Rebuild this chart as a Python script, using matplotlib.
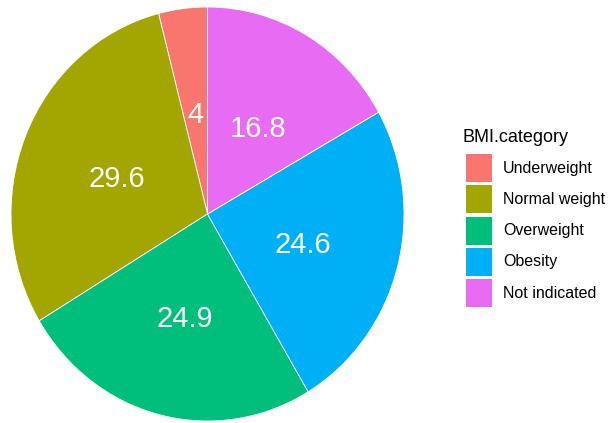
import numpy as np
import matplotlib
matplotlib.use("Agg")
import matplotlib.pyplot as plt
from matplotlib.patches import Rectangle

categories = ["Underweight", "Normal weight", "Overweight", "Obesity", "Not indicated"]
values = [4, 29.6, 24.9, 24.6, 16.8]
colors = ["#F8766D", "#A3A500", "#00BF7D", "#00B0F6", "#E76BF3"]
legend_title = "BMI.category"

W, H = 611, 423
plt.rcParams["font.family"] = ["Liberation Sans", "DejaVu Sans"]
fig = plt.figure(figsize=(W / 100, H / 100), dpi=100)

# pie area (pixel box, top-left origin)
left, right, top, bottom = 11, 404, 7, 421
ax = fig.add_axes([left / W, (H - bottom) / H, (right - left) / W, (bottom - top) / H])
wedges, _ = ax.pie(values, colors=colors, startangle=90, counterclock=True, radius=1,
                   wedgeprops=dict(edgecolor="white", linewidth=0.6))
ax.set_xlim(-1, 1)
ax.set_ylim(-1, 1)
ax.set_aspect("auto")
ax.axis("off")

for w, v in zip(wedges, values):
    mid = np.deg2rad((w.theta1 + w.theta2) / 2)
    ax.annotate(f"{v:g}", (0.5 * np.cos(mid), 0.5 * np.sin(mid)),
                xytext=(0.5, -3), textcoords="offset points", color="white",
                fontsize=21, ha="center", va="center")

# legend
fig.text(463 / W, (H - 142) / H, legend_title, fontsize=13, ha="left", va="baseline")
key_x, key_w, key_h = 466, 26, 28
first_top, step = 154, 31.3
for i, (cat, col) in enumerate(zip(categories, colors)):
    ktop = first_top + i * step
    fig.patches.append(Rectangle((key_x / W, (H - ktop - key_h) / H), key_w / W, key_h / H,
                                 transform=fig.transFigure, facecolor=col, edgecolor="none"))
    fig.text(503 / W, (H - ktop - key_h / 2) / H, cat, fontsize=11.5, ha="left", va="center")

fig.savefig("out.png", dpi=100)
